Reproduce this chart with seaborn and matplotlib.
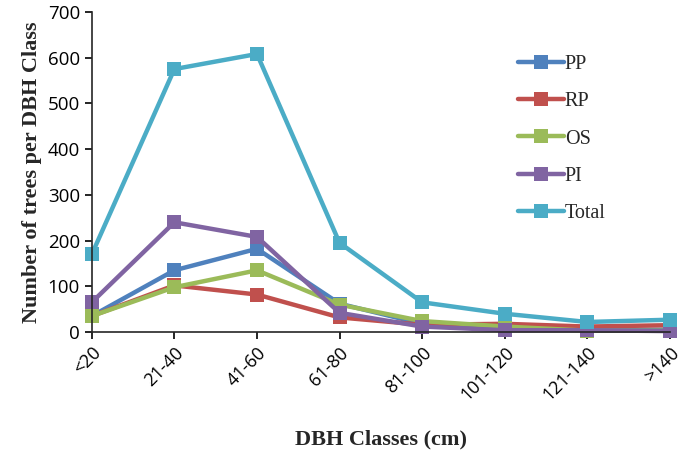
import pandas as pd
import seaborn as sns
import matplotlib.pyplot as plt

classes = ["<20", "21-40", "41-60", "61-80", "81-100", "101-120", "121-140", ">140"]
pp = [35, 135, 182, 62, 18, 8, 5, 5]
rp = [35, 102, 82, 32, 16, 18, 12, 15]
os_ = [35, 98, 135, 60, 24, 12, 3, 3]
pi = [65, 240, 208, 42, 12, 4, 4, 2]
total = [170, 575, 608, 195, 65, 40, 22, 27]

series = {"PP": pp, "RP": rp, "OS": os_, "PI": pi, "Total": total}
colors = {"PP": "#4F81BD", "RP": "#C0504D", "OS": "#9BBB59", "PI": "#8064A2", "Total": "#4BACC6"}

rows = []
for name, vals in series.items():
    for i, v in enumerate(vals):
        rows.append({"pos": i, "cls": classes[i], "count": v, "group": name})
df = pd.DataFrame(rows)

sns.set_style("ticks")
fig, ax = plt.subplots(figsize=(6.85, 4.58), dpi=100)
fig.subplots_adjust(left=0.134, right=0.978, bottom=0.275, top=0.974)

sns.lineplot(data=df, x="pos", y="count", hue="group", hue_order=list(series),
             palette=colors, marker="s", markersize=9.5, markeredgewidth=0,
             linewidth=3.2, dashes=False, ax=ax, clip_on=False)

ax.set_xlim(0, 7)
ax.set_ylim(0, 700)
ax.set_yticks(range(0, 701, 100))
ax.set_xticks(range(len(classes)))
ax.set_xticklabels(classes, rotation=45, ha="right", rotation_mode="anchor",
                   fontsize=13, family="Open Sans")
for t in ax.get_yticklabels():
    t.set_fontsize(13.5)
    t.set_family("Open Sans")
ax.tick_params(axis="both", length=5, width=1.2, colors="black")
ax.spines["left"].set_linewidth(1.2)
ax.spines["bottom"].set_linewidth(1.2)
sns.despine(ax=ax)

ax.set_xlabel("DBH Classes (cm)", fontsize=16, fontweight="bold",
              family="Liberation Serif", labelpad=18)
ax.set_ylabel("Number of trees per DBH Class", fontsize=16, fontweight="bold",
              family="Liberation Serif", labelpad=4)

leg = ax.legend(loc="upper left", bbox_to_anchor=(0.705, 0.922), frameon=False,
                prop={"family": "Liberation Serif", "size": 14.5},
                labelspacing=0.9, handlelength=2.3, handletextpad=0.05)

plt.savefig("out.png", dpi=100)
